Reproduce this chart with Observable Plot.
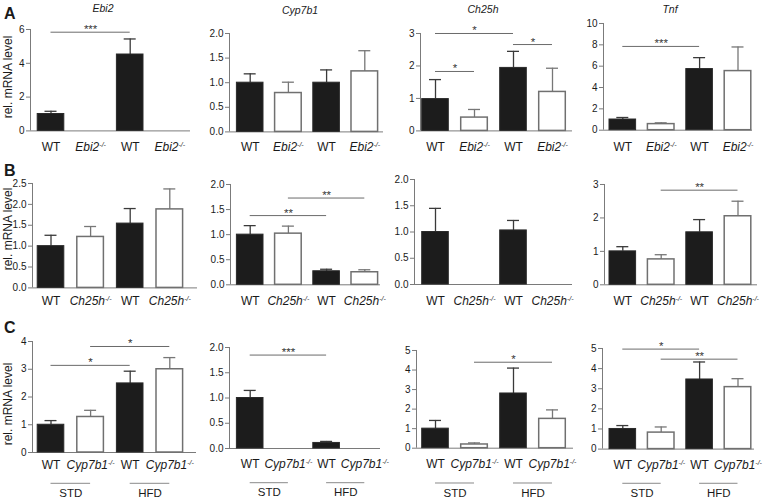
<!DOCTYPE html>
<html><head><meta charset="utf-8">
<script src="https://cdn.jsdelivr.net/npm/d3@7"></script>
<script src="https://cdn.jsdelivr.net/npm/@observablehq/plot@0.6"></script>
<style>
body{margin:0;background:#fff;}
#fig{position:relative;width:766px;height:500px;overflow:hidden;font-family:"Liberation Sans",Arial,sans-serif;color:#1a1a1a;}
.abs{position:absolute;white-space:nowrap;}
.letter{font-weight:bold;font-size:16px;line-height:16px;}
.title{font-style:italic;font-size:10.5px;transform:translate(-50%,-50%);}
.ylab{font-size:12px;transform:translate(-50%,-50%) rotate(-90deg);}
</style></head><body><div id="fig"></div>
<script>
// ---------------- data ----------------
const genesA = ["Ebi2", "Cyp7b1", "Ch25h", "Tnf"];
const genotypesA = ["WT", "Ebi2-/-", "WT", "Ebi2-/-"];
const meansA = [[1.0, null, 4.52, null], [1.0, 0.79, 1.0, 1.23], [0.98, 0.41, 1.94, 1.2], [1.0, 0.57, 5.73, 5.54]];
const errTopA = [[1.16, null, 5.44, null], [1.18, 1.01, 1.26, 1.65], [1.58, 0.66, 2.45, 1.93], [1.19, 0.69, 6.8, 7.8]];
const ticksA = [[0, 2, 4, 6], [0, 0.5, 1, 1.5, 2], [0, 1, 2, 3], [0, 2, 4, 6, 8, 10]];
const sigA = [
  [{from: 0, to: 2, y: 5.84, label: "***"}],
  [],
  [{from: 0, to: 2, y: 3.0, label: "*"}, {from: 0, to: 1, y: 1.83, label: "*"}, {from: 2, to: 3, y: 2.66, label: "*"}],
  [{from: 0, to: 2, y: 7.85, label: "***"}]
];

const genotypesB = ["WT", "Ch25h-/-", "WT", "Ch25h-/-"];
const meansB = [[1.0, 1.22, 1.54, 1.88], [1.0, 1.02, 0.27, 0.25], [1.0, null, 1.03, null], [1.0, 0.76, 1.57, 2.05]];
const errTopB = [[1.26, 1.47, 1.9, 2.37], [1.18, 1.17, 0.31, 0.3], [1.45, null, 1.22, null], [1.14, 0.9, 1.95, 2.5]];
const ticksB = [[0, 0.5, 1, 1.5, 2, 2.5], [0, 0.5, 1, 1.5, 2], [0, 0.5, 1, 1.5, 2], [0, 1, 2, 3]];
const sigB = [
  [],
  [{from: 0, to: 2, y: 1.38, label: "**"}, {from: 1, to: 3, y: 1.73, label: "**"}],
  [],
  [{from: 1, to: 3, y: 2.83, label: "**"}]
];

const genotypesC = ["WT", "Cyp7b1-/-", "WT", "Cyp7b1-/-"];
const meansC = [[1.0, 1.28, 2.49, 3.0], [1.0, null, 0.11, null], [1.0, 0.19, 2.8, 1.5], [1.0, 0.82, 3.46, 3.08]];
const errTopC = [[1.15, 1.52, 2.93, 3.42], [1.15, null, 0.14, null], [1.42, 0.27, 4.1, 1.96], [1.17, 1.1, 4.33, 3.5]];
const ticksC = [[0, 1, 2, 3, 4], [0, 0.5, 1, 1.5, 2], [0, 1, 2, 3, 4, 5], [0, 1, 2, 3, 4, 5]];
const sigC = [
  [{from: 0, to: 2, y: 3.14, label: "*"}, {from: 1, to: 3, y: 3.82, label: "*"}],
  [{from: 0, to: 2, y: 1.85, label: "***"}],
  [{from: 1, to: 3, y: 4.4, label: "*"}],
  [{from: 0, to: 2, y: 4.97, label: "*"}, {from: 1, to: 3, y: 4.47, label: "**"}]
];
const diets = ["STD", "HFD"];
const dietFrom = [0, 2];
const dietTo = [1, 3];

const yLabel = "rel. mRNA level";

// ---------------- layout ----------------
const ROWS = [
  {letter: "A", letterY: 6, titles: genesA, genotypes: genotypesA, means: meansA, errTop: errTopA, ticks: ticksA, sig: sigA, labelY: 147, ylabY: 77},
  {letter: "B", letterY: 163, titles: null, genotypes: genotypesB, means: meansB, errTop: errTopB, ticks: ticksB, sig: sigB, labelY: 300.5, ylabY: 229},
  {letter: "C", letterY: 320, titles: null, genotypes: genotypesC, means: meansC, errTop: errTopC, ticks: ticksC, sig: sigC, labelY: 464, ylabY: 404, diet: true}
];
// [axis x, baseline end x, pixel of top tick, pixel of zero]
const LAYOUT = [
  [[30, 190, 29.3, 130.7], [229, 383, 33.3, 131.7], [420, 572, 33.3, 130.7], [603, 752, 23.3, 130]],
  [[32, 197, 183.3, 287.7], [230, 380, 184, 284.3], [414, 572, 179.3, 284.3], [604, 757, 184, 284.3]],
  [[32, 196, 340.7, 451.7], [229, 380, 347.3, 448.3], [416, 573, 350, 447.7], [602, 754, 347.7, 448.3]]
];
const COLS = [{c0: 50.5, step: 39.6}, {c0: 249.7, step: 38.2}, {c0: 435, step: 39}, {c0: 622.3, step: 38.4}];
const TITLE_POS = [[103, 8], [300, 10], [483, 9], [670, 9]];
const DIET_LINE_Y = 482.5, DIET_LABEL_Y = 492.5;

const fig = document.getElementById("fig");
function addDiv(cls, text, x, y) {
  const d = document.createElement("div");
  d.className = "abs " + cls;
  d.textContent = text;
  d.style.left = x + "px";
  d.style.top = y + "px";
  fig.appendChild(d);
  return d;
}

const AXIS = "#7a7a7a";
const XFONT = "'Liberation Sans Narrow','Arial Narrow','Liberation Sans',sans-serif";

function drawPanel(row, col) {
  const R = ROWS[row];
  const [x0, x1, yTop, yBase] = LAYOUT[row][col];
  const {c0, step} = COLS[col];
  const ticks = R.ticks[col];
  const yMax = d3.max(ticks);
  const means = R.means[col], errTop = R.errTop[col], genotypes = R.genotypes, sig = R.sig[col];
  const mL = 40, mR = 14, mT = 22, mB = 50;
  const bStart = c0 - step / 2;
  const d0 = (x0 - bStart) / step, d1 = (x1 - bStart) / step;
  const W = mL + (x1 - x0) + mR, H = mT + (yBase - yTop) + mB;
  const hw = 13.3 / step, cap = 6 / step;
  const idx = d3.range(genotypes.length);
  const present = idx.filter(i => means[i] != null);
  const wt = present.filter(i => genotypes[i] === "WT");
  const ko = present.filter(i => genotypes[i] !== "WT");
  const dec = ticks.some(t => !Number.isInteger(t));
  const cx = i => i + 0.5;

  const marks = [
    Plot.ruleY([0], {stroke: AXIS}),
    Plot.ruleX([d0], {y1: 0, y2: yMax, stroke: AXIS}),
    Plot.axisY({ticks, tickFormat: dec ? d3.format(".1f") : d3.format("d"), tickSize: 4, tickPadding: 2, fontSize: 10, stroke: AXIS, label: null}),
    // error bars (upper)
    Plot.ruleX(present, {x: cx, y1: i => means[i], y2: i => errTop[i], stroke: i => genotypes[i] === "WT" ? "#3a3a3a" : "#777", strokeWidth: 1.3}),
    Plot.ruleY(present, {y: i => errTop[i], x1: i => cx(i) - cap, x2: i => cx(i) + cap, stroke: i => genotypes[i] === "WT" ? "#3a3a3a" : "#777", strokeWidth: 1.3}),
    // bars
    Plot.rectY(wt, {x1: i => cx(i) - hw, x2: i => cx(i) + hw, y1: 0, y2: i => means[i], fill: "#1c1c1c", stroke: "#2a2a2a"}),
    Plot.rectY(ko, {x1: i => cx(i) - hw, x2: i => cx(i) + hw, y1: 0, y2: i => means[i], fill: "white", stroke: "#707070", strokeWidth: 1.5}),
    // significance brackets
    Plot.ruleY(sig, {y: d => d.y, x1: d => cx(d.from), x2: d => cx(d.to), stroke: "#6a6a6a"}),
    Plot.text(sig, {x: d => (cx(d.from) + cx(d.to)) / 2, y: d => d.y, text: d => d.label, lineAnchor: "bottom", dy: 1, fontSize: 11.5, fill: "#333"}),
    // x labels
    Plot.text(idx, {x: cx, y: 0, text: i => genotypes[i], dy: R.labelY - yBase, lineAnchor: "middle", fontSize: 12, fontFamily: XFONT, fill: "#1a1a1a"})
  ];
  if (R.diet) {
    const g = d3.range(diets.length);
    marks.push(
      Plot.ruleY(g, {y: 0, x1: k => cx(dietFrom[k]), x2: k => cx(dietTo[k]), dy: DIET_LINE_Y - yBase, stroke: "#8a8a8a"}),
      Plot.text(g, {x: k => (cx(dietFrom[k]) + cx(dietTo[k])) / 2, y: 0, text: k => diets[k], dy: DIET_LABEL_Y - yBase, lineAnchor: "middle", fontSize: 11.5, fill: "#1a1a1a"})
    );
  }
  const svg = Plot.plot({
    width: W, height: H,
    marginLeft: mL, marginRight: mR, marginTop: mT, marginBottom: mB,
    x: {type: "linear", domain: [d0, d1], axis: null},
    y: {domain: [0, yMax], axis: null},
    style: {background: "none", overflow: "visible", fontFamily: "'Liberation Sans',Arial,sans-serif", color: "#1a1a1a"},
    marks
  });
  // superscript knockout notation
  svg.querySelectorAll("text").forEach(t => {
    const s = t.textContent;
    if (s.endsWith("-/-")) {
      const ns = "http://www.w3.org/2000/svg";
      t.textContent = "";
      const a = document.createElementNS(ns, "tspan");
      a.textContent = s.slice(0, -3);
      a.setAttribute("font-style", "italic");
      const b = document.createElementNS(ns, "tspan");
      b.textContent = "-/-";
      b.setAttribute("font-style", "italic");
      b.setAttribute("font-size", "7");
      b.setAttribute("dy", "-4");
      t.append(a, b);
    }
  });
  const wrap = document.createElement("div");
  wrap.className = "abs";
  wrap.style.left = (x0 - mL) + "px";
  wrap.style.top = (yTop - mT) + "px";
  wrap.style.width = W + "px";
  wrap.style.height = H + "px";
  wrap.appendChild(svg);
  fig.appendChild(wrap);
}

ROWS.forEach((R, row) => {
  for (let col = 0; col < 4; col++) drawPanel(row, col);
  addDiv("letter", R.letter, 4, R.letterY);
  addDiv("ylab", yLabel, 8, R.ylabY);
  if (R.titles) R.titles.forEach((t, col) => addDiv("title", t, TITLE_POS[col][0], TITLE_POS[col][1]));
});
</script>
</body></html>
